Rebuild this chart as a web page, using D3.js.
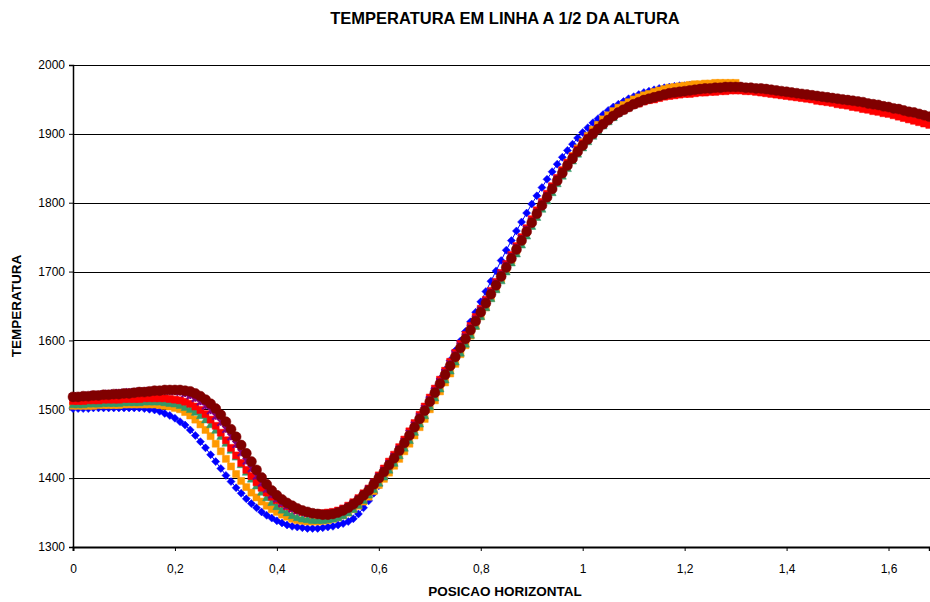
<!DOCTYPE html>
<html>
<head>
<meta charset="utf-8">
<script src="https://cdn.jsdelivr.net/npm/d3@7"></script>
<style>
  body { margin: 0; background: #fff; }
  svg { display: block; }
  text { font-family: "Liberation Sans", Arial, sans-serif; fill: #000; }
</style>
</head>
<body>
<svg id="chart" width="930" height="602"></svg>
<script>
// Horizontal sampling step of the profiles (m)
const X_STEP = 0.01;

const xTicks = [0, 0.2, 0.4, 0.6, 0.8, 1.0, 1.2, 1.4, 1.6];
const yTicks = [1300, 1400, 1500, 1600, 1700, 1800, 1900, 2000];

// Temperature profiles along the mid-height line, one value per X_STEP from x = 0
const blue = [
  1501,1501,1501,1501,1502,1502,1502,1502,1502,1502,
  1502,1502,1502,1502,1501,1500,1499,1497,1494,1491,
  1487,1482,1477,1470,1462,1453,1444,1434,1424,1414,
  1404,1395,1386,1378,1370,1363,1357,1351,1346,1342,
  1338,1335,1332,1330,1329,1328,1327,1327,1327,1328,
  1329,1330,1332,1334,1337,1341,1348,1357,1367,1378,
  1389,1401,1413,1425,1438,1451,1464,1477,1490,1503,
  1517,1530,1544,1557,1571,1585,1599,1613,1627,1641,
  1656,1671,1686,1701,1716,1731,1745,1759,1772,1785,
  1798,1810,1822,1834,1845,1856,1866,1876,1885,1894,
  1902,1909,1916,1922,1928,1934,1939,1943,1947,1951,
  1954,1957,1960,1962,1964,1966,1967,1968,1969,1970,
  1970,1971,1971,1971
];
const orange = [
  1505,1505,1505,1505,1505,1506,1506,1506,1506,1506,
  1507,1507,1507,1507,1507,1507,1507,1506,1505,1504,
  1502,1500,1496,1491,1485,1478,1470,1461,1450,1439,
  1428,1417,1406,1396,1387,1379,1372,1366,1360,1355,
  1351,1347,1344,1341,1339,1338,1337,1337,1337,1338,
  1339,1341,1343,1346,1350,1355,1360,1366,1373,1381,
  1390,1399,1408,1418,1428,1439,1450,1462,1474,1486,
  1500,1513,1526,1539,1552,1566,1580,1593,1607,1621,
  1635,1648,1662,1675,1689,1703,1716,1730,1744,1758,
  1772,1785,1798,1810,1823,1835,1847,1858,1868,1879,
  1888,1897,1906,1913,1921,1927,1933,1938,1942,1946,
  1950,1953,1956,1958,1961,1963,1965,1967,1968,1969,
  1970,1971,1972,1972,1973,1973,1974,1974,1974,1974,1974
];
const green = [
  1508,1508,1508,1509,1509,1509,1510,1510,1510,1510,
  1511,1511,1511,1511,1512,1512,1512,1512,1511,1510,
  1509,1507,1504,1501,1497,1492,1486,1479,1471,1462,
  1452,1442,1432,1421,1410,1400,1390,1381,1373,1366,
  1360,1355,1351,1347,1344,1342,1341,1340,1340,1340,
  1341,1342,1344,1347,1351,1356,1362,1369,1377,1385,
  1394,1403,1413,1423,1434,1445,1456,1468,1480,1492,
  1505,1518,1531,1544,1557,1570,1583,1596,1609,1622,
  1636,1649,1662,1675,1688,1701,1714,1727,1740,1753,
  1767,1780,1792,1804,1816,1829,1840,1851,1862,1872,
  1881,1890,1898,1906,1913,1919,1925,1931,1935,1939,
  1943,1946,1949,1951,1953,1955,1957,1959,1960,1961,
  1962,1963,1964,1965,1966,1966,1967,1967
];
const red = [
  1512,1512,1512,1513,1513,1513,1514,1514,1514,1514,
  1515,1515,1515,1515,1516,1516,1516,1516,1516,1515,
  1514,1513,1511,1508,1504,1499,1493,1485,1476,1466,
  1455,1444,1433,1422,1412,1403,1394,1386,1379,1373,
  1368,1363,1359,1356,1353,1351,1350,1349,1349,1349,
  1350,1351,1353,1356,1360,1365,1371,1378,1385,1394,
  1404,1414,1424,1434,1445,1456,1468,1480,1492,1504,
  1517,1530,1543,1556,1569,1582,1595,1608,1621,1634,
  1646,1659,1672,1685,1698,1711,1724,1737,1750,1763,
  1776,1789,1801,1813,1824,1836,1847,1858,1867,1877,
  1886,1894,1902,1908,1915,1921,1926,1931,1934,1938,
  1942,1944,1947,1949,1950,1952,1954,1955,1956,1957,
  1958,1958,1959,1960,1960,1961,1961,1962,1962,1963,
  1963,1963,1962,1962,1961,1960,1959,1958,1957,1956,
  1955,1954,1953,1952,1951,1950,1948,1947,1946,1945,
  1943,1942,1941,1939,1938,1936,1935,1933,1932,1930,
  1929,1927,1925,1923,1921,1919,1917,1915,1913
];
const purple = [
  1518,1519,1519,1520,1521,1521,1522,1523,1523,1524,
  1524,1525,1525,1526,1526,1527,1527,1527,1527,1527,
  1526,1525,1523,1520,1516,1511,1505,1498,1490,1481,
  1471,1460,1449,1437,1425,1414,1403,1393,1384,1376,
  1370,1364,1360,1356,1353,1351,1349,1348,1348,1348,
  1348,1349,1351,1354,1358,1363,1369,1376,1384,1393,
  1402,1411,1421,1431,1442,1453,1465,1477,1489,1501,
  1514,1527,1540,1553,1566,1579,1592,1605,1618,1631,
  1644,1657,1670,1683,1696,1709,1722,1735,1748,1761,
  1773,1786,1798,1810,1822,1834,1845,1855,1865,1875,
  1884,1893,1900,1907,1914,1920,1926,1931,1935,1939,
  1943,1946,1949,1951,1953,1955,1957,1959,1960,1961,
  1962,1963,1964,1965,1966,1966,1967,1967,1968
];
const darkRed = [
  1518,1518,1519,1519,1520,1520,1521,1521,1522,1522,
  1523,1523,1524,1525,1525,1526,1527,1527,1528,1528,
  1528,1528,1527,1526,1523,1519,1514,1508,1501,1492,
  1482,1471,1460,1448,1436,1424,1412,1401,1391,1382,
  1375,1369,1364,1360,1356,1353,1351,1349,1348,1347,
  1347,1348,1350,1353,1357,1362,1368,1375,1382,1391,
  1400,1409,1419,1429,1440,1451,1462,1474,1486,1498,
  1511,1524,1537,1550,1563,1576,1589,1602,1615,1628,
  1641,1654,1667,1680,1693,1706,1719,1732,1745,1758,
  1771,1784,1796,1808,1820,1832,1843,1854,1864,1874,
  1883,1892,1900,1907,1914,1920,1926,1931,1935,1939,
  1943,1946,1949,1951,1953,1955,1957,1959,1960,1961,
  1962,1963,1964,1965,1966,1966,1967,1967,1968,1968,
  1968,1968,1967,1967,1966,1966,1965,1964,1963,1962,
  1961,1960,1959,1958,1957,1956,1955,1954,1953,1952,
  1951,1950,1949,1948,1947,1946,1944,1943,1942,1940,
  1939,1937,1936,1934,1932,1931,1929,1927,1925
];

const seriesList = [
  { values: blue,    color: "#0000FF", marker: "diamond",  size: 8 },
  { values: orange,  color: "#FF9900", marker: "square",   size: 7 },
  { values: green,   color: "#339966", marker: "triangle", size: 8 },
  { values: red,     color: "#FF0000", marker: "square",   size: 7 },
  { values: purple,  color: "#800080", marker: "star",     size: 7 },
  { values: darkRed, color: "#800000", marker: "circle",   size: 10 }
];

const svg = d3.select("#chart");
const W = 930, H = 602;
const plot = { left: 73, right: 929.3, top: 65, bottom: 547 };

const x = d3.scaleLinear().domain([0, 1.68]).range([plot.left, plot.right]);
const y = d3.scaleLinear().domain([1300, 2000]).range([plot.bottom, plot.top]);

const fmtComma = d => String(+d.toFixed(1)).replace(".", ",");

// Horizontal gridlines
svg.append("g")
  .selectAll("line")
  .data(yTicks.filter(v => v > 1300))
  .join("line")
  .attr("x1", plot.left).attr("x2", W)
  .attr("y1", d => Math.round(y(d)) + 0.5).attr("y2", d => Math.round(y(d)) + 0.5)
  .attr("stroke", "#000").attr("stroke-width", 1.2);

// Y axis
const yAxis = svg.append("g")
  .attr("transform", `translate(${plot.left},0)`)
  .call(d3.axisLeft(y).tickValues(yTicks).tickSize(4).tickPadding(4).tickFormat(d3.format("d")));
yAxis.select(".domain").attr("stroke", "#000").attr("stroke-width", 1.5);
yAxis.selectAll(".tick line").attr("stroke", "#000");
yAxis.selectAll(".tick text").attr("font-size", 12).attr("font-family", "Liberation Sans, Arial, sans-serif");

// X axis
const xAxis = svg.append("g")
  .attr("transform", `translate(0,${plot.bottom})`)
  .call(d3.axisBottom(x).tickValues(xTicks).tickSize(4).tickPadding(13).tickFormat(fmtComma));
xAxis.select(".domain").attr("stroke", "#000").attr("stroke-width", 2);
xAxis.selectAll(".tick line").attr("stroke", "#000");
xAxis.selectAll(".tick text").attr("font-size", 12).attr("font-family", "Liberation Sans, Arial, sans-serif");

// Marker shapes
function markerPath(type, s) {
  const h = s / 2;
  switch (type) {
    case "diamond":  return `M0,${-h}L${h},0L0,${h}L${-h},0Z`;
    case "square":   return `M${-h},${-h}H${h}V${h}H${-h}Z`;
    case "triangle": return `M0,${-h}L${h},${h}L${-h},${h}Z`;
    case "cross":    return `M${-h},${-h}L${h},${h}M${-h},${h}L${h},${-h}`;
    case "star":     return `M${-h},${-h}L${h},${h}M${-h},${h}L${h},${-h}M0,${-h}V${h}`;
    case "circle":   return `M${h},0A${h},${h},0,1,1,${-h},0A${h},${h},0,1,1,${h},0Z`;
  }
}

const line = d3.line().x((d, i) => x(i * X_STEP)).y(d => y(d));

const seriesG = svg.append("g");
seriesList.forEach(s => {
  const g = seriesG.append("g");
  g.append("path")
    .attr("d", line(s.values))
    .attr("fill", "none")
    .attr("stroke", s.color)
    .attr("stroke-width", 1);
  const stroked = s.marker === "cross" || s.marker === "star";
  g.selectAll("path.mk")
    .data(s.values)
    .join("path")
    .attr("class", "mk")
    .attr("transform", (d, i) => `translate(${x(i * X_STEP)},${y(d)})`)
    .attr("d", markerPath(s.marker, s.size))
    .attr("fill", stroked ? "none" : s.color)
    .attr("stroke", s.color)
    .attr("stroke-width", stroked ? 2 : 0.5);
});

// Titles
svg.append("text")
  .attr("x", 505).attr("y", 24)
  .attr("text-anchor", "middle")
  .attr("font-size", 16.5).attr("font-weight", "bold")
  .text("TEMPERATURA EM LINHA A 1/2 DA ALTURA");

svg.append("text")
  .attr("x", 505).attr("y", 596)
  .attr("text-anchor", "middle")
  .attr("font-size", 13.5).attr("font-weight", "bold")
  .text("POSICAO HORIZONTAL");

svg.append("text")
  .attr("transform", `translate(21,${(plot.top + plot.bottom) / 2}) rotate(-90)`)
  .attr("text-anchor", "middle")
  .attr("font-size", 13.5).attr("font-weight", "bold")
  .text("TEMPERATURA");
</script>
</body>
</html>
